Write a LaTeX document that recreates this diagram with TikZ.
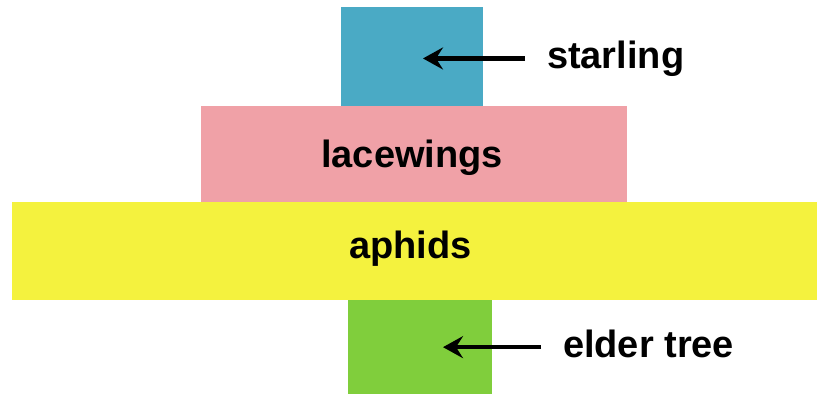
\documentclass[tikz,border=0pt]{standalone}
\usepackage{fontspec}
\setmainfont{Liberation Sans}
\usetikzlibrary{arrows.meta}
\definecolor{cstar}{RGB}{74,170,197}
\definecolor{clace}{RGB}{240,161,167}
\definecolor{caph}{RGB}{244,242,62}
\definecolor{celder}{RGB}{128,206,60}
\begin{document}
\begin{tikzpicture}[x=1pt,y=-1pt,
  layer/.style={draw=none,inner sep=0pt,outer sep=0pt,font=\fontsize{38}{40}\selectfont\bfseries,
    text height=27.7pt,text depth=8pt},
  lbl/.style={inner xsep=22pt,inner ysep=0pt,outer sep=0pt,anchor=base west,
    font=\fontsize{38}{40}\selectfont\bfseries,text height=27.7pt,text depth=8pt},
  arr/.style={line width=4.5pt,-{Stealth[length=20pt,width=22pt,inset=7pt]}}]
\useasboundingbox (0,0) rectangle (817,394);
\fill[white] (0,0) rectangle (817,394);
\node[layer,fill=cstar,minimum width=142pt,minimum height=99pt] (starling) at (412,56.5) {};
\node[layer,fill=clace,minimum width=426pt,minimum height=97pt,text depth=1pt] (lacewings) at (414,154.5) {\hspace*{-4pt}lacewings};
\node[layer,fill=caph,minimum width=805pt,minimum height=98pt,text depth=13.7pt] (aphids) at (414.5,251) {\hspace*{-8pt}aphids};
\node[layer,fill=celder,minimum width=144pt,minimum height=94pt] (elder) at (420,347) {};
\node[lbl] (slabel) at (525,68.3) {starling};
\node[lbl] (elabel) at (541,357) {elder tree};
\coordinate (stip) at (423,58);
\coordinate (etip) at (443,347);
\draw[arr] (slabel.west) -- (stip |- slabel.west);
\draw[arr] (elabel.west) -- (etip |- elabel.west);
\end{tikzpicture}
\end{document}
